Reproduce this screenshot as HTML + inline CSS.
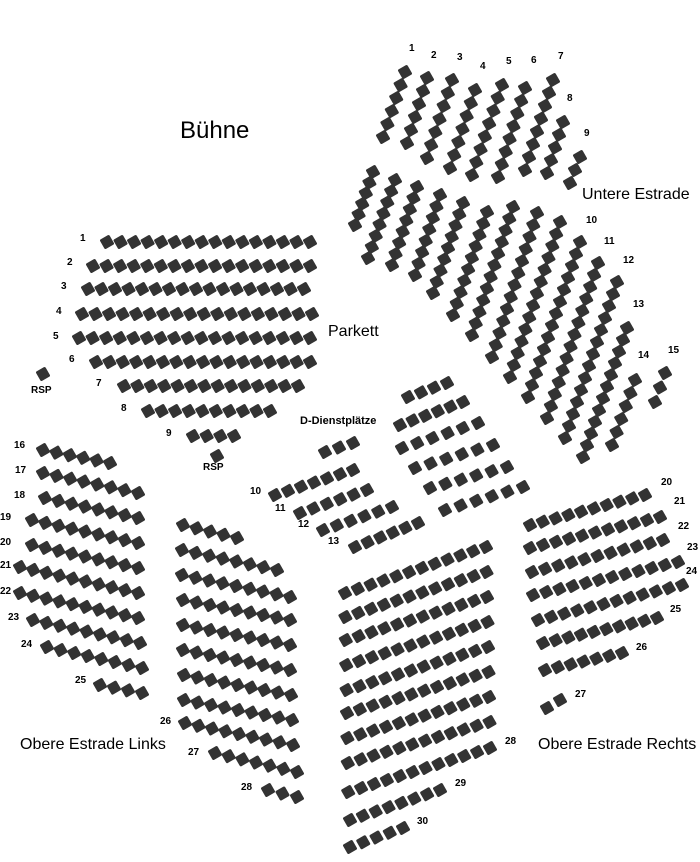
<!DOCTYPE html>
<html><head><meta charset="utf-8">
<style>
html,body{margin:0;padding:0;background:#fff;}
#c{position:relative;width:700px;height:862px;overflow:hidden;font-family:"Liberation Sans","DejaVu Sans",sans-serif;}
svg{position:absolute;left:0;top:0;}
.l{position:absolute;font-size:10px;font-weight:bold;color:#000;line-height:10px;white-space:nowrap;}
.t{position:absolute;font-size:16px;color:#000;line-height:18px;white-space:nowrap;}
</style></head><body>
<div id="c">
<svg id="s" width="700" height="862" viewBox="0 0 700 862"></svg>
<div class="t" style="left:180px;top:117px;font-size:24px;line-height:28px;">Bühne</div>
<div class="t" style="left:328px;top:323px;">Parkett</div>
<div class="t" style="left:582px;top:186px;">Untere Estrade</div>
<div class="t" style="left:20px;top:736px;">Obere Estrade Links</div>
<div class="t" style="left:538px;top:736px;">Obere Estrade Rechts</div>
<div class="l" style="left:300px;top:416px;font-size:11px;">D-Dienstplätze</div>
<div class="l" style="left:31px;top:386px;">RSP</div>
<div class="l" style="left:203px;top:463px;">RSP</div>
<div class="l" style="left:80px;top:234px;">1</div>
<div class="l" style="left:67px;top:258px;">2</div>
<div class="l" style="left:61px;top:282px;">3</div>
<div class="l" style="left:56px;top:307px;">4</div>
<div class="l" style="left:53px;top:332px;">5</div>
<div class="l" style="left:69px;top:355px;">6</div>
<div class="l" style="left:96px;top:379px;">7</div>
<div class="l" style="left:121px;top:404px;">8</div>
<div class="l" style="left:166px;top:429px;">9</div>
<div class="l" style="left:409px;top:44px;">1</div>
<div class="l" style="left:431px;top:51px;">2</div>
<div class="l" style="left:457px;top:53px;">3</div>
<div class="l" style="left:480px;top:62px;">4</div>
<div class="l" style="left:506px;top:57px;">5</div>
<div class="l" style="left:531px;top:56px;">6</div>
<div class="l" style="left:558px;top:52px;">7</div>
<div class="l" style="left:567px;top:94px;">8</div>
<div class="l" style="left:584px;top:129px;">9</div>
<div class="l" style="left:586px;top:216px;">10</div>
<div class="l" style="left:604px;top:237px;">11</div>
<div class="l" style="left:623px;top:256px;">12</div>
<div class="l" style="left:633px;top:300px;">13</div>
<div class="l" style="left:638px;top:351px;">14</div>
<div class="l" style="left:668px;top:346px;">15</div>
<div class="l" style="left:14px;top:441px;">16</div>
<div class="l" style="left:15px;top:466px;">17</div>
<div class="l" style="left:14px;top:491px;">18</div>
<div class="l" style="left:0px;top:513px;">19</div>
<div class="l" style="left:0px;top:538px;">20</div>
<div class="l" style="left:0px;top:561px;">21</div>
<div class="l" style="left:0px;top:587px;">22</div>
<div class="l" style="left:8px;top:613px;">23</div>
<div class="l" style="left:21px;top:640px;">24</div>
<div class="l" style="left:75px;top:676px;">25</div>
<div class="l" style="left:160px;top:717px;">26</div>
<div class="l" style="left:188px;top:748px;">27</div>
<div class="l" style="left:241px;top:783px;">28</div>
<div class="l" style="left:250px;top:487px;">10</div>
<div class="l" style="left:275px;top:504px;">11</div>
<div class="l" style="left:298px;top:520px;">12</div>
<div class="l" style="left:328px;top:537px;">13</div>
<div class="l" style="left:505px;top:737px;">28</div>
<div class="l" style="left:455px;top:779px;">29</div>
<div class="l" style="left:417px;top:817px;">30</div>
<div class="l" style="left:661px;top:478px;">20</div>
<div class="l" style="left:674px;top:497px;">21</div>
<div class="l" style="left:678px;top:522px;">22</div>
<div class="l" style="left:687px;top:543px;">23</div>
<div class="l" style="left:686px;top:567px;">24</div>
<div class="l" style="left:670px;top:605px;">25</div>
<div class="l" style="left:636px;top:643px;">26</div>
<div class="l" style="left:575px;top:690px;">27</div>
</div>
<script>
var s=document.getElementById('s'),out='';
function seat(x,y){out+='<rect x="'+(x-5.5)+'" y="'+(y-5.5)+'" width="11" height="11" rx="1.5" fill="#333" transform="rotate(-30 '+x+' '+y+')"/>';}
function row(x1,y1,x2,y2,n){for(var i=0;i<n;i++){var t=n>1?i/(n-1):0;seat(x1+(x2-x1)*t,y1+(y2-y1)*t);}}
row(107,242,310,242,16);row(93,266,310,266,17);row(88,289,304,289,17);
row(82,314,312,314,18);row(79,338,310,338,18);row(96,362,310,362,17);
row(124,386,298,386,14);row(148,411,270,411,10);row(193,436,234,436,4);
seat(43,374);seat(217,456);
row(405,72,383,137,6);row(427,78,407,143,6);row(452,80,427,158,7);row(475,90,450,168,7);
row(502,85,472,175,8);row(525,88,498,177,8);row(553,80,525,170,8);row(563,122,547,173,5);row(580,157,570,183,3);
row(373,172,355,225,6);row(395,180,368,258,8);row(417,187,392,265,8);row(440,195,415,275,8);
row(463,203,433,293,9);row(487,212,453,315,10);row(513,207,472,335,12);row(537,213,492,357,13);
row(560,222,510,377,14);row(580,242,528,397,14);row(598,263,547,418,14);row(617,282,565,438,14);
row(627,328,583,457,12);row(635,380,612,445,6);row(665,373,655,402,3);
row(43,450,110,463,6);row(43,473,138,493,8);row(45,498,138,518,8);row(32,520,138,543,9);
row(32,545,138,568,9);row(20,567,138,593,10);row(20,593,138,618,10);row(33,620,140,643,9);
row(47,647,142,668,8);row(100,685,142,693,4);
row(183,525,237,538,5);row(182,550,277,570,8);row(182,575,290,597,9);row(183,600,290,620,9);
row(183,625,290,645,9);row(183,650,290,670,9);row(184,675,291,695,9);row(184,700,292,720,9);
row(185,723,293,745,9);row(215,753,297,772,7);row(268,790,297,797,3);
row(325,452,353,443,3);row(275,495,353,470,7);row(300,513,367,490,6);row(323,530,392,507,6);row(355,547,418,523,6);
row(408,397,447,383,4);row(400,425,463,402,6);row(402,448,478,423,6);row(415,468,493,445,6);row(430,488,507,467,6);row(445,510,523,487,6);
var ly=[593,617,640,665,690,713,738,763,792],ry=[547,572,597,622,647,672,697,722,748];
for(var i=0;i<9;i++){row(345+i*0.4,ly[i],486+i*0.5,ry[i],12);}
row(350,820,440,790,8);row(350,847,403,828,5);
row(530,525,645,495,10);row(530,548,660,517,11);row(532,572,663,540,11);row(533,595,678,562,12);
row(538,620,682,585,12);row(543,643,657,618,10);row(545,670,622,653,7);row(547,708,560,700,2);
s.innerHTML=out;
</script>
</body></html>
